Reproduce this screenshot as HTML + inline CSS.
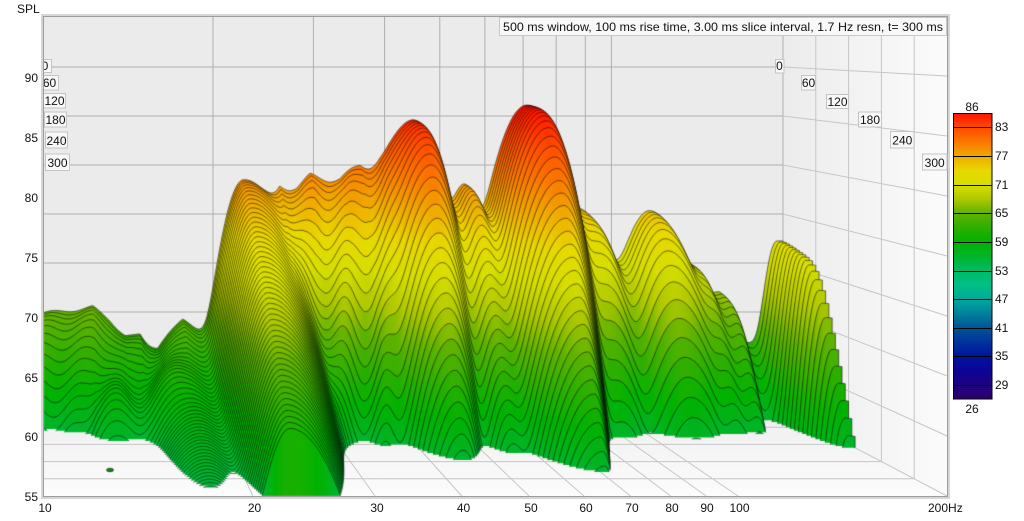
<!DOCTYPE html>
<html><head><meta charset="utf-8">
<style>
html,body{margin:0;padding:0;background:#fff;}
#w{position:relative;width:1024px;height:521px;overflow:hidden;background:#fff;}
#w svg,#w canvas{position:absolute;left:0;top:0;}
text{font-family:"Liberation Sans",Arial,sans-serif;font-size:12px;fill:#111;}
</style></head><body>
<div id="w">
<svg width="1024" height="521">
<defs>
<linearGradient id="side" x1="0" x2="1" y1="0" y2="0"><stop offset="0" stop-color="#ececec"/><stop offset="1" stop-color="#fbfbfb"/></linearGradient>
<linearGradient id="floor" x1="0" x2="0" y1="0" y2="1"><stop offset="0" stop-color="#eeeeee"/><stop offset="1" stop-color="#fcfcfc"/></linearGradient>
</defs>
<rect x="44" y="17" width="739" height="393" fill="#ebebeb"/>
<polygon points="783,17 947,17 947,496 783,410" fill="url(#side)"/>
<polygon points="44,410 783,410 947,496 44,496" fill="url(#floor)"/>
<path d="M213,17V410M313.4,17V410M384.6,17V410M439.8,17V410M484.9,17V410M523.1,17V410M556.2,17V410M585.3,17V410M611.4,17V410M783,17V410M44,67H783M44,116H783M44,165H783M44,214H783M44,263H783M44,312H783M44,361H783M44,410H783" stroke="#afafaf" stroke-width="1" fill="none"/>
<path d="M783,67L947,76M783,116L947,136M783,165L947,196M783,214L947,256M783,263L947,316M783,312L947,376M783,361L947,436M783,410L947,496M815.8,17V427.2M848.6,17V444.4M881.4,17V461.6M914.2,17V478.8M44,427.2H815.8M44,444.4H848.6M44,461.6H881.4M44,478.8H914.2M213,410L252.9,496M313.4,410L375.1,496M384.6,410L461.8,496M439.8,410L529.1,496M484.9,410L584,496M523.1,410L630.5,496M556.2,410L670.7,496M585.3,410L706.2,496M611.4,410L738,496" stroke="#c6c6c6" stroke-width="1" fill="none"/>
</svg>
<canvas id="c" width="1024" height="521"></canvas>
<svg width="1024" height="521">
<defs>
<linearGradient id="cb" x1="0" x2="0" y1="0" y2="1">
<stop offset="0" stop-color="rgb(255,20,0)"/><stop offset="0.05" stop-color="rgb(255,75,0)"/><stop offset="0.1" stop-color="rgb(250,120,0)"/><stop offset="0.15" stop-color="rgb(240,170,0)"/><stop offset="0.2" stop-color="rgb(232,216,0)"/><stop offset="0.25" stop-color="rgb(215,222,0)"/><stop offset="0.3" stop-color="rgb(175,200,0)"/><stop offset="0.35" stop-color="rgb(95,178,0)"/><stop offset="0.4" stop-color="rgb(45,175,0)"/><stop offset="0.45" stop-color="rgb(0,178,0)"/><stop offset="0.5" stop-color="rgb(0,180,40)"/><stop offset="0.55" stop-color="rgb(0,186,100)"/><stop offset="0.6" stop-color="rgb(0,192,135)"/><stop offset="0.65" stop-color="rgb(0,170,155)"/><stop offset="0.7" stop-color="rgb(0,130,155)"/><stop offset="0.75" stop-color="rgb(0,85,150)"/><stop offset="0.8" stop-color="rgb(0,50,155)"/><stop offset="0.85" stop-color="rgb(0,20,160)"/><stop offset="0.9" stop-color="rgb(10,5,150)"/><stop offset="0.95" stop-color="rgb(30,0,130)"/><stop offset="1" stop-color="rgb(45,0,110)"/>
</linearGradient>
<clipPath id="lc"><rect x="44" y="0" width="100" height="200"/></clipPath>
</defs>
<rect x="42" y="15" width="907" height="483" fill="none" stroke="#d6d6d6" stroke-width="2"/>
<rect x="43.5" y="16.5" width="904" height="480" fill="none" stroke="#9c9c9c" stroke-width="1"/>
<rect x="499.5" y="17.5" width="447" height="18" fill="#f8f8f8" stroke="#c8c8c8"/>
<text x="503" y="31" textLength="440" lengthAdjust="spacingAndGlyphs">500 ms window, 100 ms rise time, 3.00 ms slice interval, 1.7 Hz resn, t= 300 ms</text>
<g clip-path="url(#lc)">
<rect x="38.5" y="59.5" width="13" height="13" fill="#f8f8f8" stroke="#c4c4c4"/><text x="45" y="70" text-anchor="middle">0</text>
<rect x="40.5" y="75.5" width="18" height="14.5" fill="#f8f8f8" stroke="#c4c4c4"/><text x="49.5" y="87" text-anchor="middle">60</text>
<rect x="43.5" y="93.5" width="22" height="14.5" fill="#f8f8f8" stroke="#c4c4c4"/><text x="54.5" y="105" text-anchor="middle">120</text>
<rect x="44.5" y="112" width="22" height="15" fill="#f8f8f8" stroke="#c4c4c4"/><text x="55.5" y="124" text-anchor="middle">180</text>
<rect x="45.5" y="132" width="22" height="16" fill="#f8f8f8" stroke="#c4c4c4"/><text x="56.5" y="145" text-anchor="middle">240</text>
<rect x="45.5" y="154" width="24" height="16.5" fill="#f8f8f8" stroke="#c4c4c4"/><text x="57.5" y="167" text-anchor="middle">300</text>
</g>
<rect x="775.5" y="59.5" width="8.5" height="13.5" fill="#f8f8f8" stroke="#c4c4c4"/><text x="779.5" y="70" text-anchor="middle">0</text>
<rect x="801.5" y="75.5" width="14" height="14.5" fill="#f8f8f8" stroke="#c4c4c4"/><text x="808.5" y="87" text-anchor="middle">60</text>
<rect x="826.5" y="94.5" width="22" height="14" fill="#f8f8f8" stroke="#c4c4c4"/><text x="837.5" y="106" text-anchor="middle">120</text>
<rect x="858.5" y="112" width="23" height="15" fill="#f8f8f8" stroke="#c4c4c4"/><text x="870" y="124" text-anchor="middle">180</text>
<rect x="890.5" y="131.5" width="23.5" height="16.5" fill="#f8f8f8" stroke="#c4c4c4"/><text x="902.3" y="144.5" text-anchor="middle">240</text>
<rect x="922.5" y="154" width="24.5" height="16" fill="#f8f8f8" stroke="#c4c4c4"/><text x="934.7" y="167" text-anchor="middle">300</text>
<text x="17" y="13">SPL</text>
<g text-anchor="end">
<text x="38" y="82">90</text><text x="38" y="142">85</text><text x="38" y="202">80</text><text x="38" y="262">75</text><text x="38" y="322">70</text><text x="38" y="382">65</text><text x="38" y="441">60</text><text x="38" y="501">55</text>
</g>
<g text-anchor="middle">
<text x="45" y="512">10</text><text x="254.5" y="512">20</text><text x="377" y="512">30</text><text x="463.5" y="512">40</text><text x="531" y="512">50</text><text x="586" y="512">60</text><text x="632" y="512">70</text><text x="672" y="512">80</text><text x="707" y="512">90</text><text x="739.5" y="512">100</text>
</g>
<text x="928" y="512">200Hz</text>
<rect x="953.5" y="113.5" width="38.5" height="285.5" fill="url(#cb)" stroke="#000" stroke-width="1"/>
<path d="M953.5,127.5H992M953.5,156.5H992M953.5,185.5H992M953.5,213.5H992M953.5,242.5H992M953.5,271.5H992M953.5,299.5H992M953.5,328.5H992M953.5,356.5H992M953.5,385.5H992" stroke="#000" stroke-width="1"/>
<text x="972" y="111" text-anchor="middle">86</text>
<text x="972" y="413" text-anchor="middle">26</text>
<text x="995" y="131">83</text><text x="995" y="160">77</text><text x="995" y="189">71</text><text x="995" y="217">65</text><text x="995" y="246">59</text><text x="995" y="275">53</text><text x="995" y="303">47</text><text x="995" y="332">41</text><text x="995" y="360">35</text><text x="995" y="389">29</text>
</svg>
</div>
<script>
(function(){
var cv=document.getElementById('c');var ctx=cv.getContext('2d');
function X(L,d){return 41.4+2.6*d+(570+124*d)*L;}
function Y(s,d){return 67+9*d+(90-s)*(9.8+2.2*d);}
var WW=10;
function spl(x){if(x>200)return x;return WW*Math.log(1+Math.exp(x/WW));}
var CM=[[26,45,0,110],[29,30,0,130],[32,10,5,150],[35,0,20,160],[38,0,50,155],[41,0,85,150],[44,0,130,155],[47,0,170,155],[50,0,192,135],[53,0,186,100],[56,0,180,40],[59,0,178,0],[62,45,175,0],[65,95,178,0],[68,175,200,0],[71,215,222,0],[74,232,216,0],[77,240,170,0],[80,250,120,0],[83,255,75,0],[86,255,20,0]];
function col(s){
 if(s<=26)s=26.0001; if(s>=86)s=85.999;
 var i=Math.floor((s-26)/3);var a=CM[i],b=CM[i+1];var f=(s-a[0])/3;
 return 'rgb('+Math.round(a[1]+(b[1]-a[1])*f)+','+Math.round(a[2]+(b[2]-a[2])*f)+','+Math.round(a[3]+(b[3]-a[3])*f)+')';
}
var BB=[[0.000,65.0,.20,25],[0.090,65.6,.20,25],[0.120,64.2,.22,25],[0.147,62.4,.22,25],[0.173,61.8,.22,25],[0.204,57.0,.22,25],[0.248,61.5,.22,25],[0.290,59.5,.20,20],[0.330,60.0,.20,20],[0.380,64.0,.22,18],[0.400,70.0,.23,18],[0.418,76.0,.24,18],[0.448,77.4,.24,18],[0.471,79.0,.24,18],[0.524,79.0,.24,18],[0.559,80.0,.25,20],[0.594,79.0,.25,20],[0.624,77.0,.25,20],[0.650,75.5,.25,20],[0.700,70.0,.27,20],[0.740,68.0,.28,20],[0.780,65.0,.30,20],[0.850,65.0,.30,20],[0.950,65.0,.30,20],[1.000,64.0,.30,20],[1.070,64.0,.30,20],[1.150,62.0,.30,20],[1.230,62.0,.30,20],[1.302,64.0,.30,20]];
/* L, A, D, t0, hl, hr, narrowL, narrowR, growRate, growT */
var MO=[
[0.123,58.8,0.35,100,0.045,0.045,0,0,0.15,70],
[0.212,57.8,0.35,95,0.042,0.042,0,0,0.15,65],
[0.245,61.0,0.0235,20,0.075,0.075,0,0,0,0],
[0.355,78.5,0.064,20,0.038,0.075,0,0,0,0],
[0.655,84.2,0.22,45,0.055,0.045,0.3,0.3,0,0],
[0.742,77.5,0.20,40,0.028,0.028,0,0,0,0],
[0.852,86.1,0.19,55,0.055,0.055,0,0.6,0,0],
[0.954,74.5,0.30,35,0.040,0.045,0,0,0,0],
[1.067,75.1,0.30,35,0.050,0.060,0,0,0,0],
[1.150,67.0,0.22,30,0.025,0.025,0,0,0,0],
[1.190,65.5,0.20,30,0.025,0.025,0,0,0,0],
[1.290,71.6,0.25,70,0.022,0.120,0,0,0,0]];
var N=720,LM=1.30103;var Ls=[],bA=[],bD=[],bT=[];
for(var j=0;j<=N;j++){var L=LM*j/N;Ls.push(L);var k=0;while(k<BB.length-2&&BB[k+1][0]<L)k++;var p=BB[k],q=BB[k+1];var f=(L-p[0])/(q[0]-p[0]);f=Math.max(0,Math.min(1,f));bA.push(p[1]+(q[1]-p[1])*f);bD.push(p[2]+(q[2]-p[2])*f);bT.push(p[3]+(q[3]-p[3])*f);}
function lev(j,t){var L=Ls[j];
 var amp=(0.4+1.6*Math.min(1,t/80))*(L<0.3?0.45:1);
 var rip=amp*Math.sin(2*Math.PI*L/0.075+t/22);
 var sum=Math.pow(10,(bA[j]+rip-bD[j]*spl(t-bT[j]))/10);
 var tf=Math.min(1,t/200);
 for(var i=0;i<MO.length;i++){var m=MO[i];var dL=L-m[0];var h=dL<0?m[4]*(1-m[6]*tf):m[5]*(1-m[7]*tf);var g=6*(dL/h)*(dL/h);if(g>45)continue;
  var v=m[1]-m[2]*spl(t-m[3])-g;
  if(m[8]>0)v-=m[8]*spl(m[9]-t);
  sum+=Math.pow(10,v/10);}
 return 10*Math.log10(sum);}
ctx.save();ctx.beginPath();ctx.rect(44,17,903,479);ctx.clip();
ctx.lineJoin='round';ctx.strokeStyle='rgba(0,0,0,0.6)';ctx.lineWidth=0.9;
var xs=new Float64Array(N+1),ys=new Float64Array(N+1),ss=new Float64Array(N+1);
for(var kk=0;kk<=50;kk++){
 var t=6*kk,d=t/300,yF=Y(55,d);
 for(j=0;j<=N;j++){var s=lev(j,t);ss[j]=s;xs[j]=X(Ls[j],d);ys[j]=Y(s,d);}
 j=0;
 while(j<=N){
  while(j<=N&&ss[j]<=55)j++;
  if(j>N)break;
  var a=j;while(j<=N&&ss[j]>55)j++;var b=j-1;
  var xa,xb,fr;
  if(a>0){fr=(55-ss[a-1])/(ss[a]-ss[a-1]);xa=xs[a-1]+fr*(xs[a]-xs[a-1]);}else xa=xs[0];
  if(b<N){fr=(55-ss[b])/(ss[b+1]-ss[b]);xb=xs[b]+fr*(xs[b+1]-xs[b]);}else xb=xs[N];
  var pth=new Path2D();pth.moveTo(xa,yF);
  for(var i=a;i<=b;i++)pth.lineTo(xs[i],ys[i]);
  pth.lineTo(xb,yF);
  var span=Math.max(xb-xa,0.01);
  var gr=ctx.createLinearGradient(xa,0,xa+span,0);
  gr.addColorStop(0,col(a>0?55:ss[0]));
  for(i=a;i<=b;i++){gr.addColorStop(Math.min(1,Math.max(0,(xs[i]-xa)/span)),col(ss[i]));}
  gr.addColorStop(1,col(b<N?55:ss[N]));
  var fp=new Path2D(pth);fp.closePath();
  ctx.fillStyle=gr;ctx.fill(fp);
  ctx.stroke(pth);
 }
}
ctx.beginPath();ctx.ellipse(110,470,3.5,1.8,0,0,Math.PI*2);ctx.fillStyle='#108a10';ctx.fill();ctx.strokeStyle='rgba(0,0,0,0.6)';ctx.stroke();
ctx.restore();
})();
</script>
</body></html>
